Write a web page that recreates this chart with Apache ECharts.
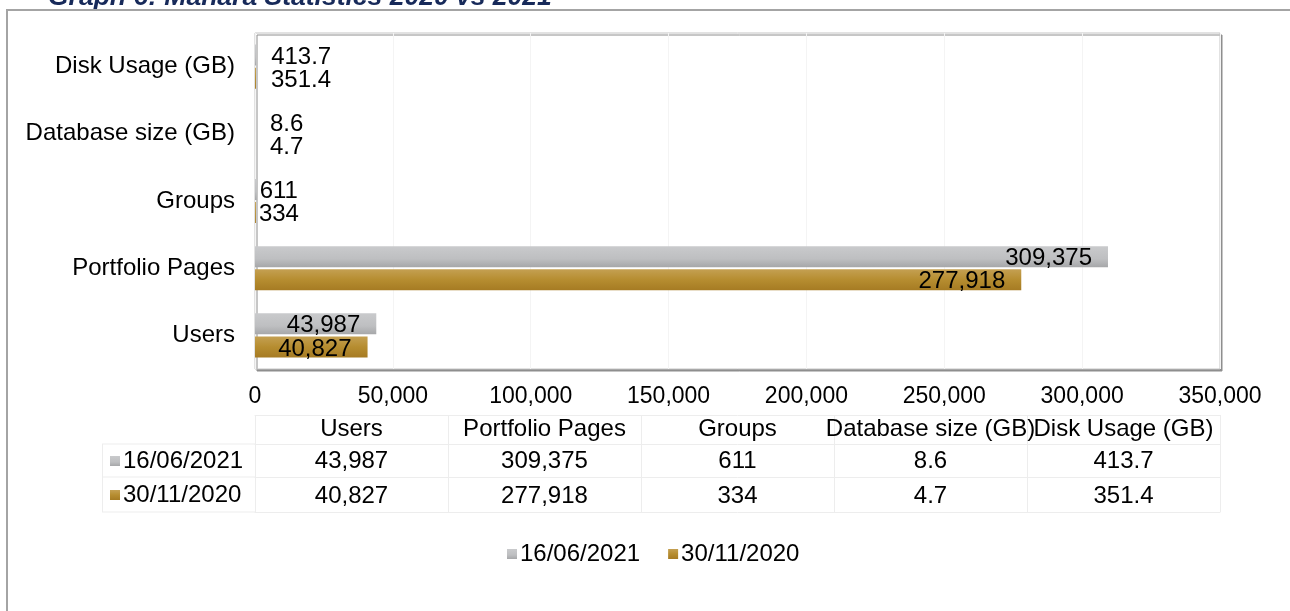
<!DOCTYPE html>
<html>
<head>
<meta charset="utf-8">
<script src="https://cdn.jsdelivr.net/npm/echarts@6/dist/echarts.min.js"></script>
<style>
  html, body { margin: 0; padding: 0; background: #fff; }
  #chart { width: 1290px; height: 611px; }
</style>
</head>
<body>
<div id="chart"></div>
<script>
// Mahara usage figures, two snapshots
const titleText = 'Graph 6: Mahara Statistics 2020 vs 2021';
const categories = ['Users', 'Portfolio Pages', 'Groups', 'Database size (GB)', 'Disk Usage (GB)'];
const seriesNames = ['16/06/2021', '30/11/2020'];
const values2021 = [43987, 309375, 611, 8.6, 413.7];
const values2020 = [40827, 277918, 334, 4.7, 351.4];
const axisMin = 0;
const axisMax = 350000;
const axisStep = 50000;

const FONT = '"Liberation Sans", Arial, sans-serif';
const FS = 24;
const fmt = v => Number(v).toLocaleString('en-US', { maximumFractionDigits: 1 });

const grayFill = {
  type: 'linear', x: 0, y: 0, x2: 0, y2: 1,
  colorStops: [
    { offset: 0, color: '#C9CACC' },
    { offset: 0.6, color: '#BEBFC1' },
    { offset: 1, color: '#A6A7A9' }
  ]
};
const goldFill = {
  type: 'linear', x: 0, y: 0, x2: 0, y2: 1,
  colorStops: [
    { offset: 0, color: '#C4A052' },
    { offset: 0.5, color: '#B68D30' },
    { offset: 1, color: '#A67B23' }
  ]
};

// Long bars carry their value inside the end; short bars show it just past the end
// (the decimal GB figures sit a little further out)
function withLabels(values) {
  return values.map(v => ({
    value: v,
    label: v > axisStep / 5
      ? { position: 'insideRight', distance: 16 }
      : { position: 'right', distance: Number.isInteger(v) ? 3 : 15 }
  }));
}

function barSeries(name, values, fill) {
  return {
    name: name,
    type: 'bar',
    data: withLabels(values),
    barWidth: 21,
    barGap: '10%',
    itemStyle: { color: fill },
    label: {
      show: true,
      color: '#000',
      fontSize: FS,
      fontFamily: FONT,
      offset: [0, 2],
      formatter: p => fmt(p.value)
    },
    emphasis: { disabled: true }
  };
}

// Rows of the data table under the plot, laid out on category axes
function tableRow(offset, labelFn, margin, tickLen) {
  return {
    type: 'category',
    gridIndex: 0,
    position: 'bottom',
    offset: offset,
    data: categories,
    boundaryGap: true,
    axisLine: { show: true, lineStyle: { color: '#EDEDED', width: 1 } },
    axisTick: { show: tickLen > 0, interval: 0, length: tickLen, lineStyle: { color: '#EDEDED' } },
    axisLabel: {
      show: !!labelFn, interval: 0, margin: margin,
      fontSize: FS, fontFamily: FONT, color: '#000',
      formatter: labelFn || (() => '')
    },
    splitLine: { show: false }
  };
}

const chart = echarts.init(document.getElementById('chart'), null, { renderer: 'canvas' });

const option = {
  animation: false,
  backgroundColor: '#fff',
  textStyle: { fontFamily: FONT },
  title: {
    text: titleText,
    left: 48,
    top: -16,
    padding: 0,
    textStyle: { fontSize: 26.5, fontWeight: 'bold', fontStyle: 'italic', color: '#172A5A', fontFamily: FONT }
  },
  grid: {
    left: 255, right: 70, top: 33, bottom: 242,
    show: true,
    backgroundColor: '#fff',
    borderColor: '#C4C4C4',
    borderWidth: 1,
    shadowColor: '#8E8E8E',
    shadowOffsetX: 2,
    shadowOffsetY: 2,
    shadowBlur: 0
  },
  legend: [
    {
      data: seriesNames,
      left: 507, top: 542, padding: 0,
      itemGap: 28, icon: 'rect', itemWidth: 10, itemHeight: 10,
      textStyle: { fontSize: FS, color: '#000', fontFamily: FONT, padding: [0, 0, 0, -2] }
    },
    {
      data: seriesNames,
      orient: 'vertical',
      left: 110, top: 449, padding: 0,
      itemGap: 10, icon: 'rect', itemWidth: 10, itemHeight: 10,
      textStyle: { fontSize: FS, color: '#000', fontFamily: FONT, padding: [0, 0, 0, -2] }
    }
  ],
  xAxis: [
    {
      type: 'value',
      min: axisMin, max: axisMax, interval: axisStep,
      axisLine: { show: false },
      axisTick: { show: false },
      splitLine: { show: true, lineStyle: { color: '#F4F4F4' } },
      axisLabel: { fontSize: 23, color: '#000', fontFamily: FONT, margin: 16, formatter: v => fmt(v) }
    },
    tableRow(46, (v) => v, 2, 29),
    tableRow(75, (v, i) => fmt(values2021[i]), 5, 33),
    tableRow(108, (v, i) => fmt(values2020[i]), 7, 35),
    tableRow(143, null, 0, 0)
  ],
  yAxis: {
    type: 'category',
    data: categories,
    axisLine: { show: false },
    axisTick: { show: false },
    splitLine: { show: false },
    axisLabel: { fontSize: FS, color: '#000', fontFamily: FONT, margin: 20, padding: [3, 0, 0, 0] }
  },
  series: [
    barSeries(seriesNames[0], values2021, grayFill),
    barSeries(seriesNames[1], values2020, goldFill)
  ],
  graphic: [
    // outer frame
    {
      type: 'rect', z: 100, silent: true,
      shape: { x: 7, y: 10, width: 1400, height: 800 },
      style: { fill: 'none', stroke: '#A4A4A4', lineWidth: 2 }
    },
    // legend column of the data table
    {
      type: 'group', silent: true,
      children: [
        { type: 'line', shape: { x1: 102, y1: 444, x2: 255, y2: 444 }, style: { stroke: '#EDEDED', lineWidth: 1 } },
        { type: 'line', shape: { x1: 102, y1: 477, x2: 255, y2: 477 }, style: { stroke: '#EDEDED', lineWidth: 1 } },
        { type: 'line', shape: { x1: 102, y1: 512, x2: 255, y2: 512 }, style: { stroke: '#EDEDED', lineWidth: 1 } },
        { type: 'line', shape: { x1: 102.5, y1: 444, x2: 102.5, y2: 512 }, style: { stroke: '#EDEDED', lineWidth: 1 } }
      ]
    }
  ]
};

chart.setOption(option);
</script>
</body>
</html>
